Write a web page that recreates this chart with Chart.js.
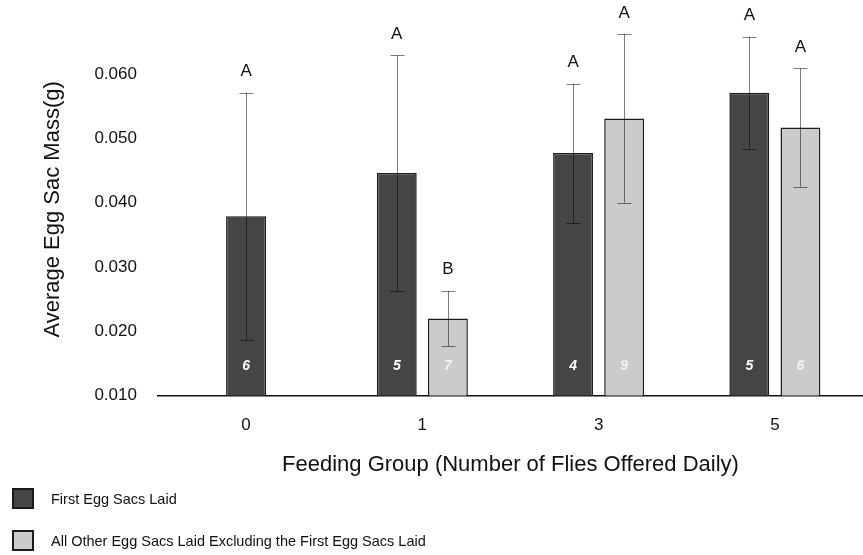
<!DOCTYPE html>
<html>
<head>
<meta charset="utf-8">
<script src="https://cdn.jsdelivr.net/npm/chart.js@4/dist/chart.umd.min.js"></script>
<style>
  html, body { margin: 0; padding: 0; background: #fff; }
  #wrap { position: relative; width: 863px; height: 555px; }
  #legend { position: absolute; left: 12px; top: 488px; font-family: 'Liberation Sans', Arial, sans-serif; font-size: 14.5px; color: #111; }
  .leg-item { display: flex; align-items: center; height: 21px; margin-bottom: 21px; }
  .leg-box { width: 18px; height: 17px; border: 2px solid #1a1a1a; margin-right: 17px; }
</style>
</head>
<body>
<div id="wrap">
  <canvas id="chart" width="863" height="555"></canvas>
  <div id="legend"></div>
</div>
<script>
const groups      = ['0', '1', '3', '5'];
const firstMeans  = [0.0379, 0.0446, 0.0477, 0.0571];
const firstErr    = [0.0192, 0.0183, 0.0108, 0.0087];
const otherMeans  = [null, 0.0220, 0.0531, 0.0517];
const otherErr    = [null, 0.0043, 0.0131, 0.0092];
const firstLetter = ['A', 'A', 'A', 'A'];
const otherLetter = [null, 'B', 'A', 'A'];
const firstN      = [6, 5, 4, 5];
const otherN      = [null, 7, 9, 6];
const yTicks      = [0.010, 0.020, 0.030, 0.040, 0.050, 0.060];

const FONT = "'Liberation Sans', Arial, sans-serif";

// error bars, significance letters and sample sizes
const annotations = {
  id: 'annotations',
  afterDatasetsDraw(chart) {
    const ctx = chart.ctx;
    const y = chart.scales.y;
    const extras = [
      { err: firstErr, letters: firstLetter, n: firstN, nColor: '#ffffff' },
      { err: otherErr, letters: otherLetter, n: otherN, nColor: '#f2f2f2' },
    ];
    chart.data.datasets.forEach((ds, di) => {
      const meta = chart.getDatasetMeta(di);
      const ex = extras[di];
      meta.data.forEach((bar, i) => {
        const v = ds.data[i];
        if (v == null) return;
        const hi = y.getPixelForValue(v + ex.err[i]);
        const lo = y.getPixelForValue(v - ex.err[i]);
        const x = Math.round(bar.x) + 0.5;
        ctx.save();
        ctx.strokeStyle = 'rgba(0,0,0,0.5)';
        ctx.lineWidth = 1;
        ctx.beginPath();
        ctx.moveTo(x, hi); ctx.lineTo(x, lo);
        ctx.moveTo(x - 7, Math.round(hi) + 0.5); ctx.lineTo(x + 7, Math.round(hi) + 0.5);
        ctx.moveTo(x - 7, Math.round(lo) + 0.5); ctx.lineTo(x + 7, Math.round(lo) + 0.5);
        ctx.stroke();

        ctx.fillStyle = '#111';
        ctx.font = '17px ' + FONT;
        ctx.textAlign = 'center';
        ctx.textBaseline = 'middle';
        ctx.fillText(ex.letters[i], bar.x, hi - 21);

        ctx.fillStyle = ex.nColor;
        ctx.font = 'italic bold 14px ' + FONT;
        ctx.fillText(String(ex.n[i]), bar.x, y.getPixelForValue(y.min) - 29);
        ctx.restore();
      });
    });
  }
};

const chart = new Chart(document.getElementById('chart'), {
  type: 'bar',
  data: {
    labels: groups,
    datasets: [
      {
        label: 'First Egg Sacs Laid',
        data: firstMeans,
        backgroundColor: '#454545',
        borderColor: '#1c1c1c',
        borderWidth: 1.5,
        skipNull: true,
        maxBarThickness: 40,
        categoryPercentage: 0.58,
        barPercentage: 0.78,
      },
      {
        label: 'All Other Egg Sacs Laid Excluding the First Egg Sacs Laid',
        data: otherMeans,
        backgroundColor: '#cbcbcb',
        borderColor: '#1c1c1c',
        borderWidth: 1.5,
        skipNull: true,
        maxBarThickness: 40,
        categoryPercentage: 0.58,
        barPercentage: 0.78,
      },
    ],
  },
  options: {
    responsive: false,
    animation: false,
    layout: { padding: { top: 0, right: 0, bottom: 79, left: 0 } },
    plugins: { legend: { display: false }, tooltip: { enabled: false } },
    scales: {
      x: {
        grid: { display: false },
        border: { display: true, color: '#111', width: 1.5 },
        ticks: { color: '#111', font: { family: FONT, size: 17 }, padding: 12 },
        title: {
          display: true,
          text: 'Feeding Group (Number of Flies Offered Daily)',
          color: '#111',
          font: { family: FONT, size: 22, lineHeight: 1 },
          padding: { top: 6, bottom: 0 },
        },
      },
      y: {
        min: 0.010,
        max: 0.0679,
        grid: { display: false },
        border: { display: false },
        afterBuildTicks: (axis) => { axis.ticks = yTicks.map(v => ({ value: v })); },
        ticks: {
          color: '#111',
          font: { family: FONT, size: 17 },
          padding: 13,
          callback: (v) => Number(v).toFixed(3),
        },
        title: {
          display: true,
          text: 'Average Egg Sac Mass(g)',
          color: '#111',
          font: { family: FONT, size: 22 },
          padding: { top: 40, bottom: 15 },
        },
      },
    },
  },
  plugins: [annotations],
});

document.getElementById('legend').innerHTML = chart.data.datasets.map(ds => `
  <div class="leg-item">
    <div class="leg-box" style="background:${ds.backgroundColor}"></div>
    <span>${ds.label}</span>
  </div>`).join('');
</script>
</body>
</html>
